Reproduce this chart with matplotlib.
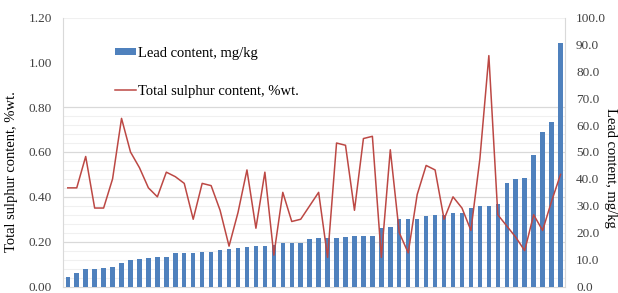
import matplotlib
matplotlib.use("Agg")
import matplotlib.pyplot as plt
import numpy as np
from matplotlib.patches import Patch
from matplotlib.lines import Line2D

plt.rcParams['font.family'] = ['Liberation Serif', 'DejaVu Serif']

lead = [3.6, 5.2, 6.5, 6.5, 6.8, 7.1, 8.7, 9.8, 10.3, 10.5,
        10.8, 10.8, 12.3, 12.3, 12.3, 13.0, 13.0, 13.6, 13.9, 14.3,
        14.6, 15.2, 15.2, 15.4, 16.3, 16.3, 16.3, 17.5, 17.9, 18.2,
        18.2, 18.5, 18.9, 18.9, 18.9, 21.8, 22.2, 25.0, 25.0, 25.0,
        26.1, 26.5, 26.5, 27.4, 27.4, 29.0, 30.0, 30.0, 30.7, 38.4,
        40.0, 40.4, 49.0, 57.5, 61.2, 90.7]
sulphur = [0.44, 0.44, 0.58, 0.35, 0.35, 0.48, 0.75, 0.60, 0.53, 0.44,
           0.40, 0.51, 0.49, 0.46, 0.30, 0.46, 0.45, 0.34, 0.18, 0.33,
           0.52, 0.26, 0.51, 0.14, 0.42, 0.29, 0.30, 0.36, 0.42, 0.13,
           0.64, 0.63, 0.34, 0.66, 0.67, 0.13, 0.61, 0.24, 0.15, 0.41,
           0.54, 0.52, 0.30, 0.40, 0.35, 0.25, 0.57, 1.03, 0.32, 0.27,
           0.22, 0.16, 0.32, 0.25, 0.38, 0.50]
left_ticks = [0.0, 0.2, 0.4, 0.6, 0.8, 1.0, 1.2]
right_ticks = [0, 10, 20, 30, 40, 50, 60, 70, 80, 90, 100]
lead_label = "Lead content, mg/kg"
sulphur_label = "Total sulphur content, %wt."

x = np.arange(len(lead))
bar_color = '#4f81bd'
line_color = '#bc4844'
fs = 9.5
lfs = 10.5

fig = plt.figure(figsize=(6.18, 2.93), dpi=100)
ax = fig.add_axes([63.3/618, 1-286.5/293, (565-63.3)/618, (286.5-17.5)/293])
ax2 = ax.twinx()

ax.set_xlim(-0.5, len(lead) - 0.5)
ax.set_ylim(0, 1.2)
ax2.set_ylim(0, 100)

# gridlines (only in lower part; upper part is the legend area)
minor = [v for v in np.arange(0.04, 0.8, 0.04) if abs(round(v / 0.2) * 0.2 - v) > 1e-6]
ax.hlines(minor, -0.5, len(lead) - 0.5, color='#f0f0f0', lw=0.8, zorder=0)
ax.hlines([0.2, 0.4, 0.6, 0.8], -0.5, len(lead) - 0.5, color='#d9d9d9', lw=0.9, zorder=0)
ax.hlines([1.2], -0.5, len(lead) - 0.5, color='#f0f0f0', lw=0.8, zorder=0)

ax2.bar(x, lead, width=0.5, color=bar_color, zorder=2)
ax2.plot(x, sulphur, color=line_color, lw=1.1, zorder=3, transform=ax.transData)

ax.set_yticks(left_ticks)
ax.set_yticklabels([f"{v:.2f}" for v in left_ticks])
ax2.set_yticks(right_ticks)
ax2.set_yticklabels([f"{v:.1f}" for v in right_ticks])
ax.set_xticks([])
ax2.set_xticks([])

ax.tick_params(axis='y', length=0, pad=8, labelsize=fs, labelcolor='#404040')
ax2.tick_params(axis='y', length=0, pad=8, labelsize=fs, labelcolor='#404040')

for a in (ax, ax2):
    for s in a.spines.values():
        s.set_visible(False)
ax.spines['left'].set_visible(True)
ax.spines['left'].set_color('#d9d9d9')
ax2.spines['right'].set_visible(True)
ax2.spines['right'].set_color('#d9d9d9')
ax.spines['bottom'].set_visible(True)
ax.spines['bottom'].set_color('#d9d9d9')

ax.set_ylabel(sulphur_label, fontsize=lfs)
ax.yaxis.set_label_coords(-0.09, 0.428)
ax2.set_ylabel(lead_label, fontsize=lfs, rotation=-90, va='center')
ax2.yaxis.set_label_coords(1.09, 0.441)

handles = [Patch(facecolor=bar_color, edgecolor='none'),
           Line2D([0], [0], color=line_color, lw=1.1)]
fig.legend(handles, [lead_label, sulphur_label], loc='upper left',
           bbox_to_anchor=(115/618, 1-47/293), frameon=False, borderpad=0,
           fontsize=lfs, handlelength=1.45, handleheight=0.4,
           handletextpad=0.15, labelspacing=1.7, borderaxespad=0)

fig.savefig('out.png', dpi=100)
